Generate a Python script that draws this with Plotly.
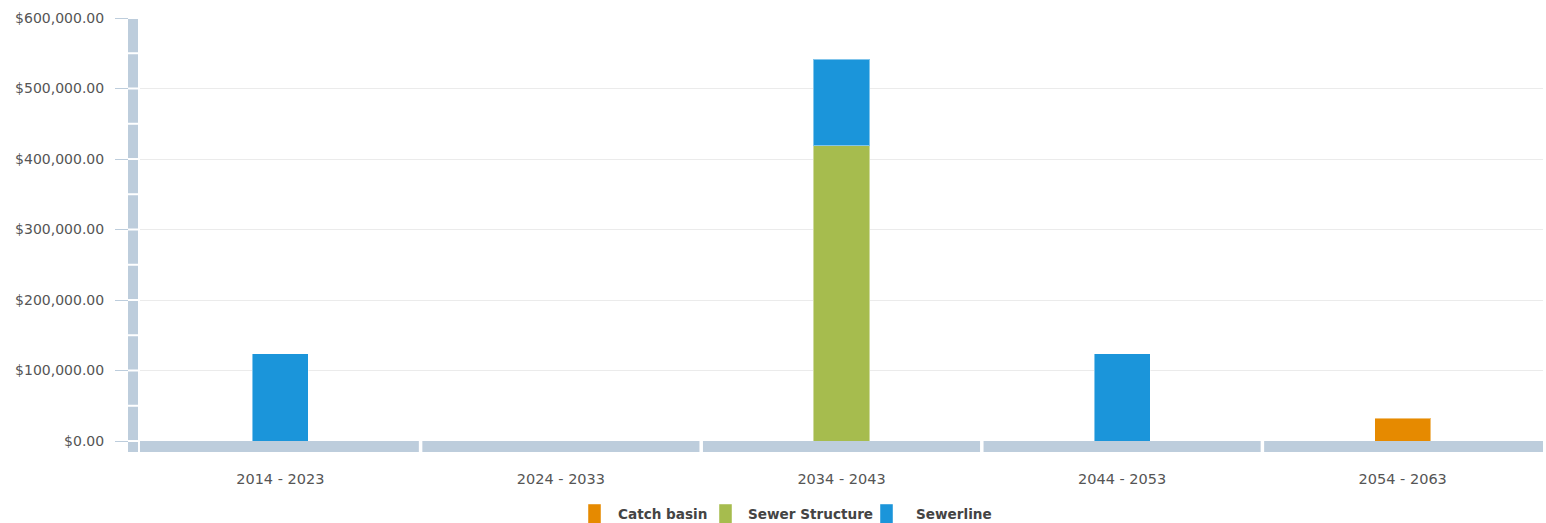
import plotly.graph_objects as go

# Replacement cost per decade, by asset class
periods = ["2014 - 2023", "2024 - 2033", "2034 - 2043", "2044 - 2053", "2054 - 2063"]
series_names = ["Catch basin", "Sewer Structure", "Sewerline"]
catch_basin = [None, None, None, None, 32000]
sewer_structure = [None, None, 419000, None, None]
sewerline = [123500, None, 122500, 123500, None]
series_colors = ["#e68a00", "#a6bc4e", "#1b95da"]

y_max = 600000
y_step = 100000
y_minor = 50000

# Page / plot geometry (pixels)
W, H = 1546, 523
ML, MR, MT, MB = 140, 3, 18, 82
PW, PH = W - ML - MR, H - MT - MB

AXIS_BAND = "#bdcddc"
FONT = "DejaVu Sans"

fig = go.Figure()
for name, vals, col in zip(series_names, [catch_basin, sewer_structure, sewerline], series_colors):
    fig.add_bar(name=name, x=periods, y=vals, marker_color=col, showlegend=False)
fig.update_traces(width=0.2, marker_line=dict(width=1, color="rgba(255,255,255,0.45)"))

shapes = []
annotations = []
px_x = lambda p: p / PW  # pixel offset from plot left -> paper x
px_y = lambda p: p / PH  # pixel offset from plot bottom -> paper y

# white backing behind the vertical band (hides the tick stubs there)
shapes.append(dict(type="rect", xref="paper", yref="paper", layer="above",
                   x0=px_x(-12), x1=0, y0=px_y(-12), y1=1,
                   fillcolor="white", line_width=0))
# vertical band, broken every minor step
gap_y = 1.0 * y_max / PH
k = 0
while k * y_minor < y_max:
    shapes.append(dict(type="rect", xref="paper", yref="y", layer="above",
                       x0=px_x(-12), x1=px_x(-2),
                       y0=k * y_minor + gap_y, y1=(k + 1) * y_minor - gap_y,
                       fillcolor=AXIS_BAND, line_width=0))
    k += 1
# corner block
shapes.append(dict(type="rect", xref="paper", yref="paper", layer="above",
                   x0=px_x(-12), x1=px_x(-2), y0=px_y(-11), y1=px_y(-1),
                   fillcolor=AXIS_BAND, line_width=0))
# horizontal band, one segment per category
gap_x = 1.75 / (PW / len(periods))
for i in range(len(periods)):
    shapes.append(dict(type="rect", xref="x", yref="paper", layer="above",
                       x0=i - 0.5 + (gap_x if i > 0 else 0),
                       x1=i + 0.5 - (gap_x if i < len(periods) - 1 else 0),
                       y0=px_y(-11), y1=0,
                       fillcolor=AXIS_BAND, line_width=0))

# legend row below the axis: swatch left edge and label left edge, in page pixels
legend_slots = [(588, 616), (719, 746), (880, 914)]
legend_cy = 514
swatch_top, swatch_bottom = 504, 524
for (sx, tx), name, col in zip(legend_slots, series_names, series_colors):
    shapes.append(dict(type="rect", xref="paper", yref="paper",
                       x0=px_x(sx - ML), x1=px_x(sx - ML + 13),
                       y0=px_y(H - MB - swatch_bottom), y1=px_y(H - MB - swatch_top),
                       fillcolor=col, line=dict(width=1, color="rgba(255,255,255,0.45)")))
    annotations.append(dict(xref="paper", yref="paper", showarrow=False,
                            x=px_x(tx - ML), y=px_y(H - MB - legend_cy),
                            xanchor="left", yanchor="middle", text=name,
                            font=dict(family=FONT, size=13.6, color="#444444", weight="bold")))

fig.update_layout(
    width=W, height=H, autosize=False,
    margin=dict(l=ML, r=MR, t=MT, b=MB, autoexpand=False),
    barmode="stack",
    plot_bgcolor="white", paper_bgcolor="white",
    font=dict(family=FONT, color="#555555"),
    shapes=shapes,
    annotations=annotations,
    showlegend=False,
    xaxis=dict(type="category", range=[-0.5, len(periods) - 0.5],
               showgrid=False, zeroline=False, showline=False, automargin=False,
               ticks="", ticklabelstandoff=27,
               tickfont=dict(family=FONT, size=14.5, color="#555555")),
    yaxis=dict(range=[0, y_max], dtick=y_step, tickformat="$,.2f",
               showgrid=True, gridcolor="#ebebeb", gridwidth=1,
               zeroline=False, showline=False, automargin=False,
               ticks="outside", ticklen=24, tickcolor=AXIS_BAND,
               ticklabelstandoff=8,
               tickfont=dict(family=FONT, size=14, color="#555555")),
)

fig.write_html("out.html")
